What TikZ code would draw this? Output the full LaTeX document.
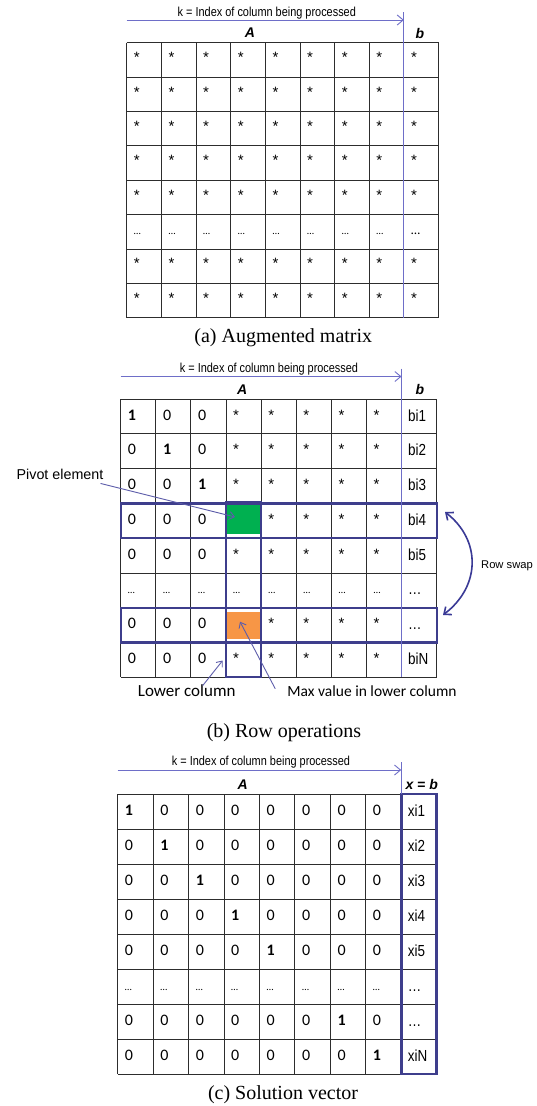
\documentclass[tikz,border=0pt]{standalone}
\usepackage{fontspec}
\setmainfont{Liberation Serif}
\newfontfamily\cellfont{Carlito}
\newfontfamily\narrowfont[FakeStretch=0.84]{Liberation Sans}
\newfontfamily\arialfont{Liberation Sans}
\usetikzlibrary{arrows.meta}

\definecolor{gridc}{RGB}{45,45,45}
\definecolor{kblue}{RGB}{110,110,200}
\definecolor{navy}{RGB}{62,62,140}
\definecolor{swapc}{RGB}{58,58,150}
\definecolor{pivgreen}{RGB}{0,176,80}
\definecolor{maxorange}{RGB}{247,150,70}

% bold entry, asterisk and small ellipsis inside the coefficient cells
\newcommand\bo{\bfseries}
\newcommand\st{{\arialfont\fontsize{15}{16}\selectfont *}}
\newcommand\dd{{\fontsize{10}{12}\selectfont …}}

% 9 x 8 table lines: #1,#2 = top-left corner, #3 = column width, #4 = row height
\newcommand\matgrid[4]{%
  \foreach \i in {0,...,9}
    \draw[gridline] ({#1+\i*#3},#2) -- ++(0,{8*#4});
  \foreach \j in {0,...,8}
    \draw[gridline] (#1,{#2+\j*#4}) -- ++({9*#3},0);
}

\tikzset{
  gridline/.style={draw=gridc, line width=0.9pt},
  cell/.style={anchor=base west, inner sep=0pt, font=\cellfont\fontsize{16}{18}\selectfont},
  vec/.style={anchor=base west, inner sep=0pt, font=\narrowfont\fontsize{16}{18}\selectfont},
  ktitle/.style={inner sep=0pt, font=\narrowfont\fontsize{13}{15}\selectfont},
  head/.style={inner sep=0pt, font=\arialfont\bfseries\itshape\fontsize{14}{16}\selectfont},
  caption/.style={anchor=base, inner sep=0pt, font=\fontsize{20}{24}\selectfont},
  kline/.style={draw=kblue, line width=0.9pt},
  karrow/.style={kline, -{Straight Barb[length=6pt,width=10pt]}},
  frame/.style={draw=navy, line width=2.2pt},
  labarrow/.style={draw=kblue!85!black, line width=0.9pt, -{Straight Barb[length=5pt,width=8pt]}},
  swaparrow/.style={draw=swapc, line width=1.6pt,
    {Straight Barb[length=6pt,width=10pt]}-{Straight Barb[length=6pt,width=10pt]}},
  hl/.style={inner sep=0pt, minimum width=33pt},
}

\begin{document}
\begin{tikzpicture}[x=1pt,y=-1pt]
\useasboundingbox[fill=white] (0,0) rectangle (536,1106);

% ---------------- (a) augmented matrix ----------------
\matgrid{126.7}{42.7}{34.65}{34.38}
\node[ktitle] (ka) at (266.8,13) {k = Index of column being processed};
\coordinate (ka-s) at (126.7,20);
\coordinate (ka-e) at (403.9,20);
\draw[karrow] (ka-s) -- (ka-e);
\coordinate (da-t) at (403.9,12);
\coordinate (da-b) at (403.9,317.7);
\draw[kline] (da-t) -- (da-b);
\node[head] (Aa) at (250,33) {A};
\node[head] (ba) at (420,33) {b};
\foreach \r in {0,...,7}
  \foreach \c in {0,...,8} {
    \ifnum\r=5
      \ifnum\c=8
        \node[cell] (a-\r-\c) at ({126.7+\c*34.65+7},{42.7+\r*34.38+20}) {{\fontsize{13}{14}\selectfont …}};
      \else
        \node[cell] (a-\r-\c) at ({126.7+\c*34.65+7},{42.7+\r*34.38+20}) {\dd};
      \fi
    \else
      \node[cell] (a-\r-\c) at ({126.7+\c*34.65+7},{42.7+\r*34.38+20}) {\st};
    \fi
  }
\node[caption] (capa) at (283.3,342.5) {(a) Augmented matrix};

% ---------------- (b) row operations ----------------
\matgrid{120.7}{399}{35.1}{34.79}
\node[hl, fill=pivgreen, minimum height=29pt] (pivot) at (243.5,519.5) {};
\node[hl, fill=maxorange, minimum height=27pt] (maxv) at (243.5,625) {};
\draw[frame] (120.7,503.4) rectangle (436.7,538.2);
\draw[frame] (120.7,607.7) rectangle (436.7,642.5);
\draw[frame] (226,501.6) rectangle (261.1,677.3);
\node[ktitle] (kb) at (269,369.5) {k = Index of column being processed};
\coordinate (kb-s) at (120.7,376.5);
\coordinate (kb-e) at (401.5,376.5);
\draw[karrow] (kb-s) -- (kb-e);
\coordinate (db-t) at (401.5,368.5);
\coordinate (db-b) at (401.5,677.3);
\draw[kline] (db-t) -- (db-b);
\node[head] (Ab) at (242.3,389.5) {A};
\node[head] (bb) at (420,389.5) {b};
\foreach \row [count=\r from 0] in {
    {\bo1,0,0,\st,\st,\st,\st,\st,bi1},
    {0,\bo1,0,\st,\st,\st,\st,\st,bi2},
    {0,0,\bo1,\st,\st,\st,\st,\st,bi3},
    {0,0,0,{},\st,\st,\st,\st,bi4},
    {0,0,0,\st,\st,\st,\st,\st,bi5},
    {\dd,\dd,\dd,\dd,\dd,\dd,\dd,\dd,…},
    {0,0,0,{},\st,\st,\st,\st,…},
    {0,0,0,\st,\st,\st,\st,\st,biN}}
  \foreach \t [count=\c from 0] in \row {
    \ifnum\c=8
      \node[vec] (b-\r-\c) at ({120.7+\c*35.1+6.5},{399+\r*34.79+22}) {\t};
    \else
      \node[cell] (b-\r-\c) at ({120.7+\c*35.1+7},{399+\r*34.79+21}) {\t};
    \fi
  }

% labels and pointers
\node[inner sep=0pt, font=\arialfont\fontsize{14.3}{16}\selectfont] (pivlab) at (60,474) {Pivot element};
\coordinate (pivtip) at (235,517);
\draw[labarrow] ([xshift=-3pt,yshift=-4pt]pivlab.south east) -- (pivtip);

\node[inner sep=0pt, font=\arialfont\fontsize{11.2}{13}\selectfont] (swaplab) at (507,566) {Row swap};
\coordinate (sw-a) at (445,512);
\coordinate (sw-b) at (443,615);
\draw[swaparrow] (sw-a) .. controls (481,540) and (481,586) .. (sw-b);

\node[inner sep=0pt, font=\cellfont\fontsize{17}{19}\selectfont] (lowlab) at (186.7,690.7) {Lower column};
\coordinate (lowtip) at (222.7,660.5);
\draw[labarrow] ([xshift=16pt,yshift=-1pt]lowlab.north) -- (lowtip);

\node[inner sep=0pt, font=\cellfont\fontsize{15.5}{18}\selectfont] (maxlab) at (372,690.7) {Max value in lower column};
\coordinate (maxtip) at (240,621.7);
\draw[labarrow] ([xshift=-12pt,yshift=2pt]maxlab.west) -- (maxtip);

\node[caption] (capb) at (284,737.5) {(b) Row operations};

% ---------------- (c) solution vector ----------------
\matgrid{117.7}{794}{35.44}{35}
\draw[frame, line width=2.6pt] (401.2,794) rectangle (436.7,1074);
\node[ktitle] (kc) at (261,762) {k = Index of column being processed};
\coordinate (kc-s) at (117.7,770);
\coordinate (kc-e) at (401.2,770);
\draw[karrow] (kc-s) -- (kc-e);
\coordinate (dc-t) at (401.2,762);
\coordinate (dc-b) at (401.2,794);
\draw[kline] (dc-t) -- (dc-b);
\node[head] (Ac) at (242.7,784.5) {A};
\node[head] (xc) at (421.7,784.5) {x = b};
\foreach \row [count=\r from 0] in {
    {\bo1,0,0,0,0,0,0,0,xi1},
    {0,\bo1,0,0,0,0,0,0,xi2},
    {0,0,\bo1,0,0,0,0,0,xi3},
    {0,0,0,\bo1,0,0,0,0,xi4},
    {0,0,0,0,\bo1,0,0,0,xi5},
    {\dd,\dd,\dd,\dd,\dd,\dd,\dd,\dd,…},
    {0,0,0,0,0,0,\bo1,0,…},
    {0,0,0,0,0,0,0,\bo1,xiN}}
  \foreach \t [count=\c from 0] in \row {
    \ifnum\c=8
      \node[vec] (c-\r-\c) at ({117.7+\c*35.44+6.5},{794+\r*35+22}) {\t};
    \else
      \node[cell] (c-\r-\c) at ({117.7+\c*35.44+7},{794+\r*35+21}) {\t};
    \fi
  }
\node[caption] (capc) at (283,1099) {(c) Solution vector};
\end{tikzpicture}
\end{document}
